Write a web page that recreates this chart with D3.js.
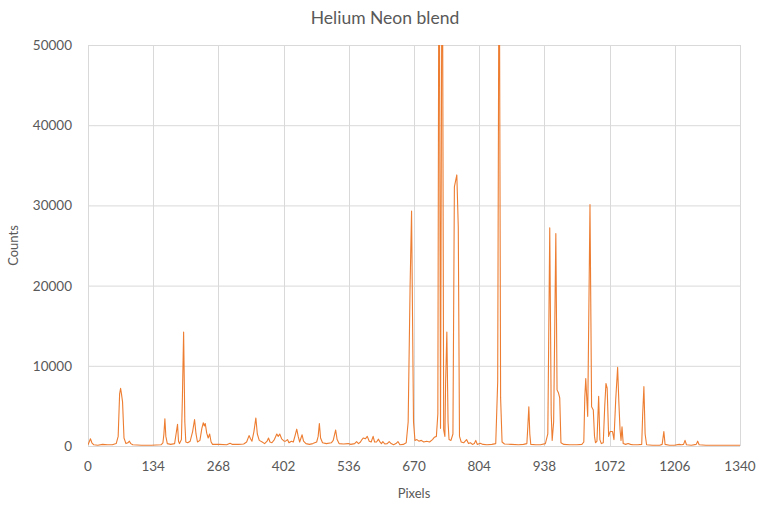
<!DOCTYPE html>
<html>
<head>
<meta charset="utf-8">
<script src="https://cdn.jsdelivr.net/npm/d3@7"></script>
<style>
  html, body { margin: 0; padding: 0; background: #fff; }
  text { font-family: Lato, "Open Sans", sans-serif; fill: #595959; }
</style>
</head>
<body>
<svg id="chart" width="765" height="510"></svg>
<script>
const title = "Helium Neon blend";
const xTitle = "Pixels";
const yTitle = "Counts";
const xTicks = [0, 134, 268, 402, 536, 670, 804, 938, 1072, 1206, 1340];
const yTicks = [0, 10000, 20000, 30000, 40000, 50000];

const pixels = [0,3,5,8,12,20,30,40,50,58,62,65,67,69,71,74,78,82,85,88,92,110,130,150,154,156,158,160,163,170,178,181,184,186,188,192,194,196.5,199,201,205,210,215,219,222,225,230,234,237,239,241,244,247,250,253,256,270,285,292,297,310,320,326,331,334,337,341,345,348,352,358,363,368,371,374,378,383,388,391,394,398,403,406,410,413,418,422,426,429,432,435,440,443,448,455,462,466,470,473,475.5,478,482,490,500,504,509,512,516,525,535,540,548,552,556,560,563,566,570,574,578,582,586,589,593,597,600,603,606,610,615,619,623,628,633,637,641,648,654,658,662,665,667,669,672,676,680,685,690,696,702,708,712,716,719,721.5,724.5,728,731,733.5,735,737.5,740,742,746,750,753,758,761,763.5,767,772,778,782,786,790,794,797,800,806,812,820,830,838,842,845,848,851,856,870,885,895,902,904,906,908,910,920,930,940,945,949,952,954,957,961.5,964,967,969.5,972,978,990,1005,1015,1019,1021,1023,1027,1031.7,1035,1038.5,1041,1043,1046,1049.5,1052,1055,1059,1062,1064.5,1067,1070,1073,1078,1081,1084.5,1088.5,1091,1093.5,1095.5,1097.5,1100,1105,1110,1115,1120,1130,1138,1140,1142.5,1145,1148,1160,1175,1180,1183.5,1186,1195,1205,1215,1220,1224,1227,1230,1240,1250,1253,1256,1270,1300,1340];
const counts = [150,600,900,400,150,100,200,150,150,300,1200,6500,7200,6400,5500,1000,300,400,600,300,150,100,100,150,400,1500,3400,1200,300,200,300,1500,2700,600,300,800,6000,14200,3000,500,400,600,1800,3300,1500,500,700,2200,2900,2500,2800,1600,1000,1500,500,200,200,150,350,200,200,250,500,1300,900,600,1800,3500,1500,700,500,300,600,1000,500,400,800,1500,1200,1500,900,600,600,800,400,600,500,1400,2100,1200,500,1400,600,300,200,300,400,500,1200,2800,1000,400,300,400,700,2000,800,300,250,300,200,300,550,300,500,800,1000,900,1200,600,500,1200,500,500,850,500,300,550,250,300,550,300,150,300,550,150,200,400,3000,20000,29300,16000,3000,700,800,600,700,500,600,500,800,1100,1200,4000,75000,2200,75000,2000,1200,8000,14200,3000,800,700,1500,32300,33800,27300,1200,500,400,800,300,400,200,300,700,200,350,200,150,200,300,8000,70000,6000,500,250,200,150,200,300,2500,4900,1500,200,150,150,300,1500,27200,4000,700,3000,26500,7000,6600,6000,400,200,150,150,200,500,6000,8400,3700,30100,4900,4500,1200,400,600,6200,800,300,400,5000,7800,7200,1200,1800,1800,800,5700,9800,5500,2000,700,2400,300,200,300,200,150,150,200,4000,7400,1500,150,100,100,200,1800,200,100,100,200,150,200,700,150,100,200,600,150,100,100,100];

const data = pixels.map((p, i) => ({x: p, y: counts[i]}));

const svg = d3.select("#chart");
const L = 88, R = 740, T = 45, B = 446;

const x = d3.scaleLinear().domain([0, 1340]).range([L, R]);
const y = d3.scaleLinear().domain([0, 50000]).range([B, T]);

// gridlines
svg.append("g").selectAll("line.h").data(yTicks).join("line")
  .attr("x1", L).attr("x2", R)
  .attr("y1", d => y(d) + 0.5).attr("y2", d => y(d) + 0.5)
  .attr("stroke", "#d9d9d9").attr("stroke-width", 1);
svg.append("g").selectAll("line.v").data(xTicks).join("line")
  .attr("x1", d => Math.round(x(d)) + 0.5).attr("x2", d => Math.round(x(d)) + 0.5)
  .attr("y1", T).attr("y2", B)
  .attr("stroke", "#d9d9d9").attr("stroke-width", 1);

// clip
svg.append("defs").append("clipPath").attr("id", "clip")
  .append("rect").attr("x", L).attr("y", T).attr("width", R - L).attr("height", B - T + 1);

const line = d3.line().x(d => x(d.x)).y(d => y(d.y));
svg.append("path").datum(data)
  .attr("clip-path", "url(#clip)")
  .attr("fill", "none")
  .attr("stroke", "#ED7D31")
  .attr("stroke-width", 1.1)
  .attr("stroke-linejoin", "round")
  .attr("d", line);

// y tick labels
svg.append("g").selectAll("text").data(yTicks).join("text")
  .attr("x", L - 16).attr("y", d => y(d) + 5)
  .attr("text-anchor", "end").attr("font-size", 13.5)
  .text(d => d);

// x tick labels
svg.append("g").selectAll("text").data(xTicks).join("text")
  .attr("x", d => x(d)).attr("y", 471)
  .attr("text-anchor", "middle").attr("font-size", 13.5)
  .text(d => d);

svg.append("text").attr("x", 385).attr("y", 24)
  .attr("text-anchor", "middle").attr("font-size", 17.5)
  .text(title);

svg.append("text").attr("x", (L + R) / 2).attr("y", 498)
  .attr("text-anchor", "middle").attr("font-size", 13)
  .text(xTitle);

svg.append("text")
  .attr("transform", `translate(18, ${(T + B) / 2}) rotate(-90)`)
  .attr("text-anchor", "middle").attr("font-size", 13)
  .text(yTitle);
</script>
</body>
</html>
